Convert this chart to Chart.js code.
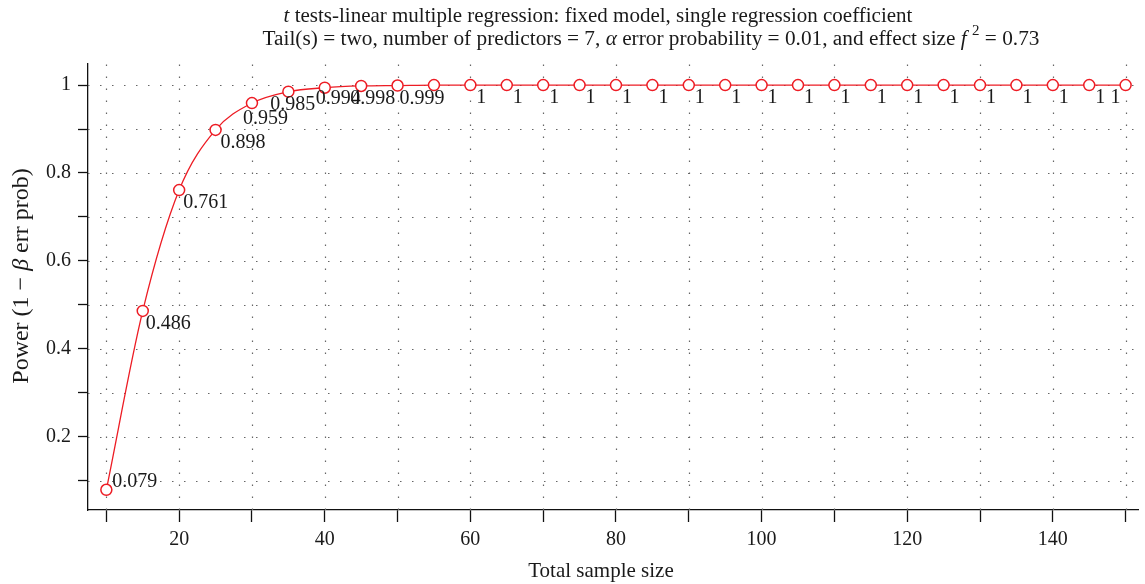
<!DOCTYPE html>
<html><head><meta charset="utf-8">
<script src="https://cdn.jsdelivr.net/npm/chart.js@4/dist/chart.umd.min.js"></script>
<style>html,body{margin:0;padding:0;background:#fff;}</style>
</head><body>
<canvas id="c" width="1145" height="584"></canvas>
<script>
const sampleSizes = [10,15,20,25,30,35,40,45,50,55,60,65,70,75,80,85,90,95,100,105,110,115,120,125,130,135,140,145,150];
const power = [0.079,0.486,0.761,0.898,0.959,0.985,0.994,0.998,0.999,1,1,1,1,1,1,1,1,1,1,1,1,1,1,1,1,1,1,1,1];
const xTickLabels = [20,40,60,80,100,120,140];
const yTickLabels = [0.2,0.4,0.6,0.8,1];

const FONT = '"Liberation Serif", "Times New Roman", serif';
const RED = 'rgb(237,28,36)';

// label placement (offset from point, px); null = no label
const labelOffsets = {0:[6,-8],1:[3,13],2:[4,13],3:[5,13],4:[-9,16],5:[-18,13],6:[-9,11],7:[-11,13],8:[2,13],9:null,28:[-15,13]};
const defaultOffset = [6,13];

const gridPlugin = {
  id:'dotGrid',
  beforeDatasetsDraw(chart){
    const {ctx, chartArea:a, scales:{x,y}} = chart;
    ctx.save();
    ctx.strokeStyle = '#666';
    ctx.lineWidth = 1.2;
    ctx.setLineDash([1.5,10.5]);
    x.ticks.forEach(t=>{
      const px = Math.round(x.getPixelForValue(t.value))+0.5;
      ctx.beginPath(); ctx.moveTo(px, a.bottom); ctx.lineTo(px, a.top); ctx.stroke();
    });
    y.ticks.forEach(t=>{
      const py = Math.round(y.getPixelForValue(t.value))+0.5;
      ctx.beginPath(); ctx.moveTo(a.left, py); ctx.lineTo(a.right, py); ctx.stroke();
    });
    ctx.restore();
  }
};

const labelPlugin = {
  id:'pointLabels',
  afterDatasetsDraw(chart){
    const {ctx} = chart;
    const meta = chart.getDatasetMeta(0);
    ctx.save();
    ctx.font = '20px ' + FONT;
    ctx.fillStyle = '#1a1a1a';
    ctx.textAlign = 'left';
    ctx.textBaseline = 'middle';
    meta.data.forEach((el,i)=>{
      const off = (i in labelOffsets) ? labelOffsets[i] : defaultOffset;
      if (!off) return;
      ctx.fillText(String(power[i]), el.x + off[0], el.y + off[1]);
    });
    ctx.restore();
  }
};

function drawRich(ctx, segs, cx, baseline, size){
  let w = 0;
  const fontOf = s => (s.italic ? 'italic ' : '') + (s.sup ? Math.round(size*0.72) : size) + 'px ' + FONT;
  segs.forEach(s=>{ ctx.font = fontOf(s); s.w = ctx.measureText(s.t).width; w += s.w; });
  let x = cx - w/2;
  segs.forEach(s=>{
    ctx.font = fontOf(s);
    ctx.fillText(s.t, x, baseline - (s.sup ? size*0.48 : 0));
    x += s.w;
  });
}

const titlePlugin = {
  id:'richTitles',
  afterDraw(chart){
    const {ctx} = chart;
    ctx.save();
    ctx.fillStyle = '#1a1a1a';
    ctx.textAlign = 'left';
    ctx.textBaseline = 'alphabetic';
    drawRich(ctx, [{t:'t',italic:true},{t:' tests-linear multiple regression: fixed model, single regression coefficient'}], 598, 22, 21);
    drawRich(ctx, [{t:'Tail(s) = two, number of predictors = 7, '},{t:'\u03B1',italic:true},{t:' error probability = 0.01, and effect size '},{t:'f',italic:true},{t:' '},{t:'2',sup:true},{t:' = 0.73'}], 651, 45, 21.3);
    // x axis title
    drawRich(ctx, [{t:'Total sample size'}], 601, 577, 21);
    // y axis title
    ctx.translate(28, 276);
    ctx.rotate(-Math.PI/2);
    drawRich(ctx, [{t:'Power (1 \u2212 '},{t:'\u03B2',italic:true},{t:' err prob)'}], 0, 0, 24);
    ctx.restore();
  }
};

new Chart(document.getElementById('c'), {
  type:'line',
  data:{datasets:[{
    data: sampleSizes.map((x,i)=>({x, y:power[i]})),
    borderColor: RED, borderWidth:1.3,
    pointRadius:5.5, pointBackgroundColor:'#fff', pointBorderColor:RED, pointBorderWidth:1.5,
    cubicInterpolationMode:'monotone', fill:false
  }]},
  options:{
    responsive:false, animation:false, devicePixelRatio:1,
    layout:{padding:{top:64,left:0,right:0,bottom:0}},
    plugins:{legend:{display:false}, title:{display:false}, tooltip:{enabled:false}},
    scales:{
      x:{
        type:'linear', min:7.48, max:151.7,
        afterFit(s){ s.height = 74; },
        border:{color:'#111', width:1.3},
        grid:{drawOnChartArea:false, color:'#111', tickColor:'#111', tickLength:12, tickWidth:1.3},
        ticks:{stepSize:10, includeBounds:false, autoSkip:false, maxRotation:0, maxTicksLimit:100,
          callback:v => xTickLabels.includes(v) ? String(v) : '',
          font:{family:FONT, size:20}, color:'#1a1a1a', padding:6},
        title:{display:false}
      },
      y:{
        min:0.033, max:1.048,
        afterFit(s){ s.width = 88; },
        border:{color:'#111', width:1.3},
        grid:{drawOnChartArea:false, color:'#111', tickColor:'#111', tickLength:10, tickWidth:1.3},
        ticks:{stepSize:0.1, includeBounds:false, autoSkip:false, maxTicksLimit:100,
          callback:v => { const k = Math.round(v*10)/10; return yTickLabels.includes(k) ? String(k) : ''; },
          font:{family:FONT, size:20}, color:'#1a1a1a', padding:7}
      }
    }
  },
  plugins:[gridPlugin, labelPlugin, titlePlugin]
});
</script>
</body></html>
